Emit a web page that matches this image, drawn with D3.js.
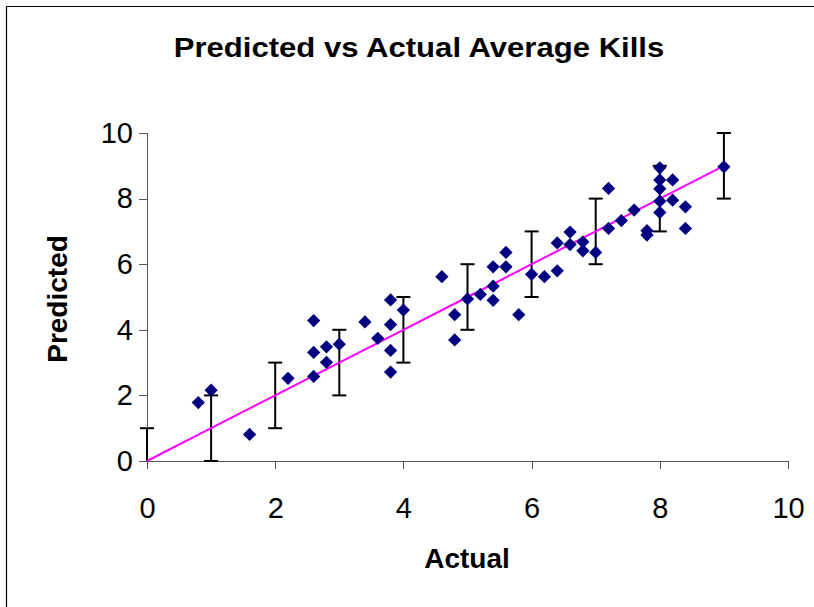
<!DOCTYPE html>
<html lang="en">
<head>
    <meta charset="UTF-8">
    <title>Predicted vs Actual Average Kills</title>
    <style>
        body {
            margin: 0;
            padding: 0;
            overflow: hidden;
            background: #fff;
            font-family: "Liberation Sans", Arial, sans-serif;
        }

        svg {
            display: block;
        }

        .frame {
            stroke: #000;
            stroke-width: 1.2px;
        }

        .axis path,
        .axis line {
            stroke: #555;
            stroke-width: 1px;
            shape-rendering: crispEdges;
        }

        .axis text {
            font-size: 29px;
            fill: #000;
        }

        .fit-line {
            stroke: #ff00ff;
            stroke-width: 2px;
            fill: none;
        }

        .err line {
            stroke: #000;
            stroke-width: 2px;
        }

        .point {
            fill: #000080;
        }
    </style>
</head>
<body>
    <svg id="chart" width="814" height="607"></svg>

    <script src="https://d3js.org/d3.v7.min.js"></script>
    <script>
        // Observed data: actual vs predicted average kills
        const actual = [0.8, 1.0, 1.6, 2.2, 2.6, 2.6, 2.6, 2.8, 2.8, 3.0, 3.4, 3.6, 3.8, 3.8, 3.8, 3.8,
            4.0, 4.6, 4.8, 4.8, 5.0, 5.2, 5.4, 5.4, 5.4, 5.6, 5.6, 5.8, 6.0, 6.2, 6.4, 6.4, 6.6, 6.6,
            6.8, 6.8, 7.0, 7.2, 7.2, 7.4, 7.6, 7.8, 7.8, 8.0, 8.0, 8.0, 8.0, 8.0, 8.2, 8.2, 8.4, 8.4, 9.0];
        const predicted = [1.78, 2.16, 0.81, 2.52, 4.28, 3.31, 2.58, 3.48, 3.01, 3.56, 4.24, 3.74, 4.91, 4.16, 3.37, 2.71,
            4.6, 5.62, 4.46, 3.69, 4.94, 5.08, 5.92, 5.33, 4.9, 6.36, 5.92, 4.46, 5.69, 5.62, 5.8, 6.65, 6.98, 6.6,
            6.68, 6.41, 6.36, 8.31, 7.09, 7.33, 7.65, 7.02, 6.89, 8.94, 8.57, 8.3, 7.92, 7.58, 8.57, 7.95, 7.75, 7.09, 8.97];

        // Reference line y = x with +/-1 error bars
        const refX = [0, 1, 2, 3, 4, 5, 6, 7, 8, 9];
        const refErr = 1;

        const xTicks = [0, 2, 4, 6, 8, 10];
        const yTicks = [0, 2, 4, 6, 8, 10];

        const svg = d3.select("#chart");

        // chart frame: only top and left edges fall inside the picture
        svg.append("line").attr("class", "frame")
            .attr("x1", 6.5).attr("y1", 6.5).attr("x2", 814).attr("y2", 6.5);
        svg.append("line").attr("class", "frame")
            .attr("x1", 6.5).attr("y1", 6.5).attr("x2", 6.5).attr("y2", 607);

        const x = d3.scaleLinear().domain([0, 10]).range([147, 788]);
        const y = d3.scaleLinear().domain([0, 10]).range([461, 133]);

        // title
        svg.append("text")
            .attr("transform", "translate(419,57) scale(1.11,1)")
            .attr("text-anchor", "middle")
            .style("font-size", "28px")
            .style("font-weight", "bold")
            .text("Predicted vs Actual Average Kills");

        // axes
        svg.append("g")
            .attr("class", "axis")
            .attr("transform", "translate(0," + y(0) + ")")
            .call(d3.axisBottom(x).tickValues(xTicks).tickSize(8).tickPadding(28).tickFormat(d3.format("d")));

        svg.append("g")
            .attr("class", "axis")
            .attr("transform", "translate(" + x(0) + ",0)")
            .call(d3.axisLeft(y).tickValues(yTicks).tickSize(8).tickPadding(6).tickFormat(d3.format("d")));

        // axis titles
        svg.append("text")
            .attr("x", 467)
            .attr("y", 568)
            .attr("text-anchor", "middle")
            .style("font-size", "28px")
            .style("font-weight", "bold")
            .text("Actual");

        svg.append("text")
            .attr("transform", "translate(67,299) rotate(-90)")
            .attr("text-anchor", "middle")
            .style("font-size", "28px")
            .style("font-weight", "bold")
            .text("Predicted");

        // error bars, clipped at the bottom of the plot
        const err = svg.append("g").attr("class", "err")
            .selectAll("g")
            .data(refX)
            .join("g");

        err.append("line")
            .attr("x1", d => x(d)).attr("x2", d => x(d))
            .attr("y1", d => y(Math.max(0, d - refErr)))
            .attr("y2", d => y(d + refErr));

        err.append("line")
            .attr("x1", d => x(d) - 7).attr("x2", d => x(d) + 7)
            .attr("y1", d => y(d + refErr)).attr("y2", d => y(d + refErr));

        err.filter(d => d - refErr >= 0).append("line")
            .attr("x1", d => x(d) - 7).attr("x2", d => x(d) + 7)
            .attr("y1", d => y(d - refErr)).attr("y2", d => y(d - refErr));

        // y = x line
        svg.append("path")
            .datum(refX)
            .attr("class", "fit-line")
            .attr("d", d3.line().x(d => x(d)).y(d => y(d)));

        // data points as diamonds
        const diamond = d3.symbol(d3.symbolSquare, 88);
        svg.append("g")
            .selectAll("path")
            .data(actual.map((a, i) => ({ a: a, p: predicted[i] })))
            .join("path")
            .attr("class", "point")
            .attr("d", diamond)
            .attr("transform", d => "translate(" + x(d.a) + "," + y(d.p) + ") rotate(45)");
    </script>
</body>
</html>
